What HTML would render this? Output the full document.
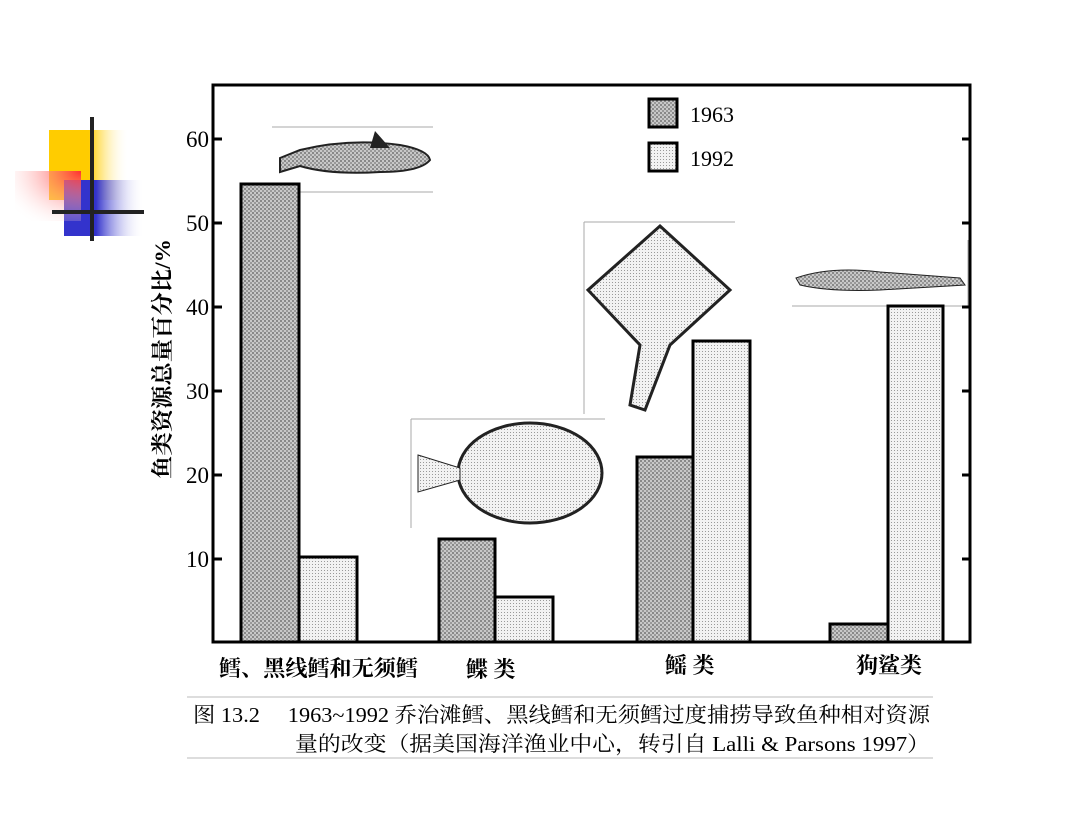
<!DOCTYPE html>
<html><head><meta charset="utf-8"><style>
body{margin:0;background:#fff;}
svg text{font-family:"Liberation Serif","Noto Serif CJK SC",serif;}
</style></head><body>
<svg width="1080" height="810" viewBox="0 0 1080 810" xmlns="http://www.w3.org/2000/svg">
<defs>
<pattern id="p1" width="4" height="4" patternUnits="userSpaceOnUse"><rect width="4" height="4" fill="#c8c8c8"/><rect width="2" height="2" fill="#888"/><rect x="2" y="2" width="2" height="2" fill="#999"/></pattern>
<pattern id="p2" width="3" height="3" patternUnits="userSpaceOnUse"><rect width="3" height="3" fill="#f2f2f2"/><rect width="1" height="1" fill="#999"/></pattern>
<linearGradient id="gy" x1="0" x2="1"><stop offset="0.5" stop-color="#ffcc00"/><stop offset="1" stop-color="#fff" stop-opacity="0"/></linearGradient>
<linearGradient id="gb" x1="0" x2="1"><stop offset="0.4" stop-color="#3333cc"/><stop offset="1" stop-color="#fff" stop-opacity="0"/></linearGradient>
<radialGradient id="gr" cx="1" cy="0" r="1.3"><stop offset="0" stop-color="#ff3030"/><stop offset="1" stop-color="#fff" stop-opacity="0"/></radialGradient>
</defs>
<rect x="49" y="130" width="80" height="70" fill="url(#gy)"/>
<rect x="64" y="180" width="80" height="56" fill="url(#gb)"/>
<rect x="15" y="171" width="66" height="50" fill="url(#gr)"/>
<rect x="90" y="117" width="4" height="124" fill="#222"/>
<rect x="52" y="210" width="92" height="4" fill="#222"/>
<line x1="272" y1="127" x2="433" y2="127" stroke="#aaa"/><line x1="300" y1="192" x2="433" y2="192" stroke="#aaa"/>
<path d="M280 158 L300 150 Q350 138 400 145 Q428 150 430 160 Q420 172 380 172 Q330 175 300 166 L280 172 Z" fill="url(#p1)" stroke="#222" stroke-width="2"/>
<path d="M370 148 L375 131 L390 148 Z" fill="#222"/>
<line x1="411" y1="419" x2="605" y2="419" stroke="#aaa"/><line x1="411" y1="419" x2="411" y2="528" stroke="#aaa"/>
<ellipse cx="530" cy="473" rx="72" ry="50" fill="url(#p2)" stroke="#222" stroke-width="3"/>
<path d="M418 455 L460 468 L460 480 L418 492 Z" fill="url(#p2)" stroke="#222"/>
<line x1="584" y1="222" x2="735" y2="222" stroke="#aaa"/><line x1="584" y1="222" x2="584" y2="414" stroke="#aaa"/>
<path d="M660 226 L730 290 L670 345 L645 410 L630 405 L640 345 L588 290 Z" fill="url(#p2)" stroke="#222" stroke-width="3"/>
<line x1="792" y1="306" x2="968" y2="306" stroke="#aaa"/><line x1="968" y1="240" x2="968" y2="306" stroke="#aaa"/>
<path d="M796 278 Q830 266 880 272 L960 278 L965 285 L880 290 Q830 292 800 285 Z" fill="url(#p1)" stroke="#222"/>
<rect x="213" y="85" width="757" height="557" fill="none" stroke="#000" stroke-width="3"/>
<g stroke="#000" stroke-width="3">
<line x1="213" y1="139" x2="222" y2="139"/><line x1="213" y1="223" x2="222" y2="223"/><line x1="213" y1="307" x2="222" y2="307"/><line x1="213" y1="391" x2="222" y2="391"/><line x1="213" y1="475" x2="222" y2="475"/><line x1="213" y1="559" x2="222" y2="559"/>
<line x1="962" y1="139" x2="970" y2="139"/><line x1="962" y1="223" x2="970" y2="223"/><line x1="962" y1="307" x2="970" y2="307"/><line x1="962" y1="391" x2="970" y2="391"/><line x1="962" y1="475" x2="970" y2="475"/><line x1="962" y1="559" x2="970" y2="559"/>
</g>
<g font-size="23" text-anchor="end">
<text x="209" y="147">60</text><text x="209" y="231">50</text><text x="209" y="315">40</text><text x="209" y="399">30</text><text x="209" y="483">20</text><text x="209" y="567">10</text>
</g>
<text transform="translate(170,359) rotate(-90)" font-size="22" font-weight="bold" text-anchor="middle" textLength="240" lengthAdjust="spacingAndGlyphs">鱼类资源总量百分比/%</text>
<g stroke="#000" stroke-width="3">
<rect x="241" y="184" width="58" height="458" fill="url(#p1)"/><rect x="299" y="557" width="58" height="85" fill="url(#p2)"/>
<rect x="439" y="539" width="56" height="103" fill="url(#p1)"/><rect x="495" y="597" width="58" height="45" fill="url(#p2)"/>
<rect x="637" y="457" width="56" height="185" fill="url(#p1)"/><rect x="693" y="341" width="57" height="301" fill="url(#p2)"/>
<rect x="830" y="624" width="58" height="18" fill="url(#p1)"/><rect x="888" y="306" width="55" height="336" fill="url(#p2)"/>
<rect x="649" y="99" width="28" height="28" fill="url(#p1)"/><rect x="649" y="143" width="28" height="28" fill="url(#p2)"/>
</g>
<text x="690" y="122" font-size="22">1963</text><text x="690" y="166" font-size="22">1992</text>
<g font-size="22" font-weight="bold">
<text x="219" y="676" textLength="199" lengthAdjust="spacingAndGlyphs">鳕、黑线鳕和无须鳕</text><text x="466" y="677">鲽 类</text><text x="665" y="673">鳐 类</text><text x="856" y="673">狗鲨类</text>
</g>
<line x1="187" y1="697" x2="933" y2="697" stroke="#bbb"/><line x1="187" y1="758" x2="933" y2="758" stroke="#bbb"/>
<text x="193" y="722" font-size="21" textLength="737" lengthAdjust="spacingAndGlyphs">图 13.2　 1963~1992 乔治滩鳕、黑线鳕和无须鳕过度捕捞导致鱼种相对资源</text>
<text x="295" y="751" font-size="21" textLength="635" lengthAdjust="spacingAndGlyphs">量的改变（据美国海洋渔业中心，转引自 Lalli &amp; Parsons 1997）</text>
</svg>
</body></html>
